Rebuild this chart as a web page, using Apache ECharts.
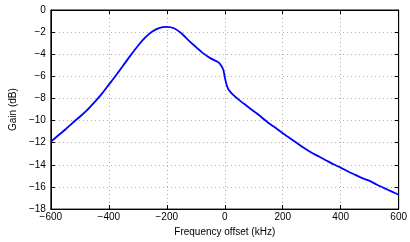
<!DOCTYPE html>
<html>
<head>
<meta charset="utf-8">
<script src="https://cdn.jsdelivr.net/npm/echarts@6/dist/echarts.min.js"></script>
<style>
    html, body { margin: 0; padding: 0; background: #fff; }
    #chart_gain { width: 410px; height: 242px; }
</style>
</head>
<body>
<div id="chart_gain"></div>
<script>
// 频率偏移 (kHz)
var freqOffset = [-600, -575, -550, -525, -500, -475, -450, -425, -400, -375, -350, -325, -300, -275, -250, -225, -200, -175, -150, -125, -100, -75, -50, -25, -15, -5, 0, 5, 12, 20, 30, 50, 75, 100, 125, 150, 175, 200, 225, 250, 275, 300, 325, 350, 375, 400, 425, 450, 475, 500, 525, 550, 575, 600];
// 增益 (dB)
var gain = [-11.9, -11.35, -10.8, -10.2, -9.65, -9.05, -8.35, -7.6, -6.75, -5.9, -5.0, -4.1, -3.25, -2.5, -1.95, -1.62, -1.52, -1.65, -2.1, -2.75, -3.33, -3.9, -4.35, -4.68, -4.92, -5.4, -6.05, -6.65, -7.15, -7.42, -7.7, -8.15, -8.65, -9.15, -9.65, -10.2, -10.65, -11.15, -11.6, -12.05, -12.5, -12.9, -13.25, -13.6, -13.95, -14.25, -14.6, -14.9, -15.2, -15.45, -15.8, -16.1, -16.4, -16.7];
var xTicks = [-600, -400, -200, 0, 200, 400, 600];
var yTicks = [-18, -16, -14, -12, -10, -8, -6, -4, -2, 0];

var minus = function (v) {
    return String(v).replace('-', '\u2212');
};

var myChart = echarts.init(document.getElementById("chart_gain"));
var font = "Liberation Sans";

// 四周边框的刻度
var sideAxis = function (pos) {
    return {
        type: "value",
        position: pos,
        axisLine: { show: true, onZero: false, lineStyle: { color: "#000" } },
        axisTick: { show: true, inside: true, length: 4, lineStyle: { color: "#000" } },
        axisLabel: { show: false },
        splitLine: { show: false }
    };
};

var xTop = sideAxis("top");
xTop.min = xTicks[0];
xTop.max = xTicks[xTicks.length - 1];
xTop.interval = 200;
var yRight = sideAxis("right");
yRight.min = yTicks[0];
yRight.max = yTicks[yTicks.length - 1];
yRight.interval = 2;

var option = {
    animation: false,
    textStyle: { fontFamily: font },
    grid: {
        left: 41,
        right: 10,
        top: 10,
        bottom: 25,
        show: true,
        borderColor: "#000",
        borderWidth: 1,
        backgroundColor: "#fff"
    },
    xAxis: [
        {
            type: "value",
            min: xTicks[0],
            max: xTicks[xTicks.length - 1],
            interval: 200,
            name: "Frequency offset (kHz)",
            nameLocation: "middle",
            nameGap: 14,
            nameTextStyle: { color: "#000", fontSize: 10, fontFamily: font },
            axisLine: { show: true, onZero: false, lineStyle: { color: "#000", width: 1 } },
            axisTick: { show: true, inside: true, length: 4, lineStyle: { color: "#000" } },
            axisLabel: { color: "#000", fontSize: 10, margin: 3, fontFamily: font, formatter: minus },
            splitLine: { show: true, lineStyle: { color: "#aaa", type: [1, 3], width: 1 } }
        },
        xTop
    ],
    yAxis: [
        {
            type: "value",
            min: yTicks[0],
            max: yTicks[yTicks.length - 1],
            interval: 2,
            name: "Gain (dB)",
            nameLocation: "middle",
            nameGap: 25,
            nameTextStyle: { color: "#000", fontSize: 10, fontFamily: font },
            axisLine: { show: true, onZero: false, lineStyle: { color: "#000", width: 1 } },
            axisTick: { show: true, inside: true, length: 4, lineStyle: { color: "#000" } },
            axisLabel: { color: "#000", fontSize: 10, margin: 5, fontFamily: font, formatter: minus },
            splitLine: { show: true, lineStyle: { color: "#aaa", type: [1, 3], width: 1 } }
        },
        yRight
    ],
    series: [
        {
            type: "line",
            smooth: 0.2,
            showSymbol: false,
            lineStyle: { color: "#0000ff", width: 1.8 },
            data: freqOffset.map(function (f, i) { return [f, gain[i]]; })
        }
    ]
};

myChart.setOption(option);
</script>
</body>
</html>
